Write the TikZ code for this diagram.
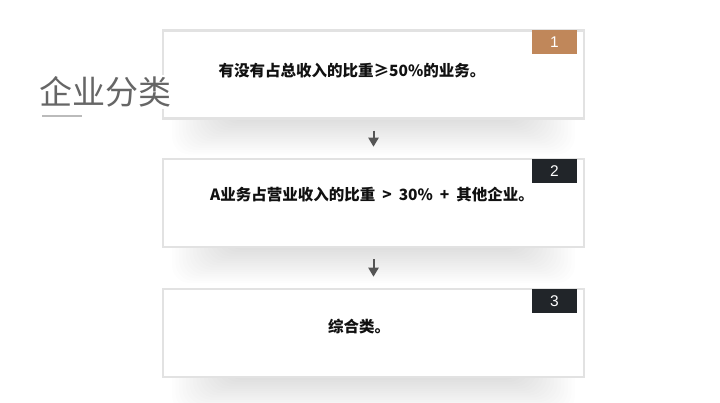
\documentclass[tikz,border=0pt]{standalone}
\usepackage{fontspec}
\setmainfont{Noto Sans CJK SC}
\newfontfamily\numfont{Liberation Sans}
\usetikzlibrary{arrows.meta}
\definecolor{col_e2e2e2}{RGB}{226,226,226}
\definecolor{col_c0875a}{RGB}{192,135,90}
\definecolor{col_212529}{RGB}{33,37,41}
\definecolor{col_555555}{RGB}{85,85,85}
\definecolor{col_666666}{RGB}{102,102,102}
\definecolor{col_bbbbbb}{RGB}{187,187,187}
\definecolor{col_111111}{RGB}{17,17,17}
\tikzset{
  stepbox/.style={draw=col_e2e2e2, line width=2.5pt, fill=white, minimum width=421pt, minimum height=88pt, inner sep=0pt},
  badge/.style={anchor=north east, minimum width=45pt, minimum height=24pt, inner sep=0pt, text=white, font=\numfont\fontsize{15.5}{16}\selectfont},
  steptext/.style={text=col_111111, font=\bfseries\fontsize{15.5}{16}\selectfont, inner sep=0pt},
  steparrow/.style={draw=col_555555, line width=2pt, -{Triangle[width=10pt,length=9pt]}, shorten <=11pt, shorten >=11pt}
}
\newcommand{\tikzdrawstep}[4]{%
\foreach \s in {0,...,15}
  \fill[black, opacity=0.007, rounded corners=18pt] (172+3.5*\s,#2) rectangle (575-3.5*\s,#2+80-2.2*\s);
\node[stepbox] (#1) at (373.5,#2) {};
\node[badge, fill=#4] (#1_num) at ([xshift=-8pt,yshift=-1pt]#1.north east) {#3};
}

\begin{document}
\begin{tikzpicture}[x=1pt,y=-1pt]
\useasboundingbox[fill=white] (0,0) rectangle (720,403);
\tikzdrawstep{step1}{74.5}{1}{col_c0875a}     %% first box
\tikzdrawstep{step2}{203}{2}{col_212529}      %% second box
\tikzdrawstep{step3}{333}{3}{col_212529}      %% third box
\node[steptext] (step1_text) at (352,71) {有没有占总收入的比重≥50\%的业务。};
\node[steptext] (step2_text) at (372,195) {A业务占营业收入的比重\hspace{7pt}>\hspace{7pt}30\%\hspace{7pt}+\hspace{7pt}其他企业。};
\node[steptext] (step3_text) at (359,327) {综合类。};
\draw[steparrow] (step1) -- (step2);
\draw[steparrow] (step2) -- (step3);
\node[fill=white, text=col_666666, font=\fontsize{33}{33}\selectfont, inner sep=2pt] (title) at (105,92) {企业分类};
\draw[col_bbbbbb, line width=1.5pt] (42,116) coordinate (title_l) -- (82,116) coordinate (title_r);
\end{tikzpicture}
\end{document}
